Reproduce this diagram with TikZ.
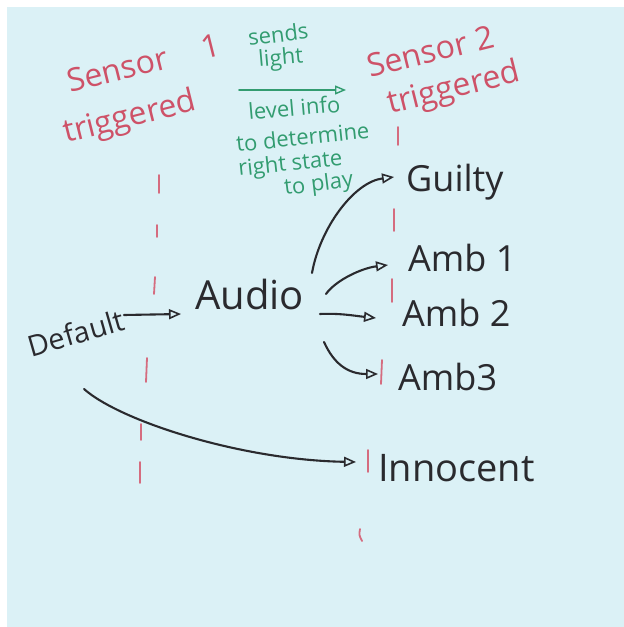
\documentclass[tikz,border=0pt]{standalone}
\usepackage{fontspec}
\setmainfont{Open Sans}
\usetikzlibrary{arrows.meta}

\definecolor{note}{RGB}{219,241,246}
\definecolor{ink}{RGB}{42,42,46}
\definecolor{redpen}{RGB}{206,82,104}
\definecolor{greenpen}{RGB}{50,156,112}

\begin{document}
\begin{tikzpicture}[x=1pt,y=-1pt,
  state/.style={anchor=base west, inner sep=0pt, text=ink, font=\fontsize{36}{40}\selectfont},
  sensorlabel/.style={anchor=base west, inner sep=0pt, text=redpen, rotate=14, font=\fontsize{32}{36}\selectfont},
  infolabel/.style={anchor=base west, inner sep=0pt, text=greenpen, font=\fontsize{22}{26}\selectfont},
  flow/.style={draw=ink, line width=2.1pt, line cap=round,
    -{Triangle[open, length=12pt, width=10pt, line width=1.6pt]}},
  infoflow/.style={draw=greenpen, line width=1.6pt, line cap=round,
    -{Triangle[open, length=11pt, width=9pt, line width=1.4pt]}},
  marker/.style={draw=redpen!85, line width=1.8pt, line cap=round},
]
% sticky note
\useasboundingbox (0,0) rectangle (624,627);
\fill[white] (0,0) rectangle (624,627);
\fill[note] (7,7) rectangle (624,627);

% sensor headings
\node[sensorlabel] (s1a) at (70,93)  {Sensor\hspace{1.1em}1};
\node[sensorlabel] (s1b) at (66,143) {triggered};
\node[sensorlabel] (s2a) at (370,78) {Sensor 2};
\node[sensorlabel] (s2b) at (390,114) {triggered};

% message between the sensors
\node[infolabel, rotate=7] (i1) at (249,46)  {sends};
\node[infolabel, rotate=5] (i2) at (259,67)  {light};
\node[infolabel, rotate=5] (i3) at (249,120) {level info};
\node[infolabel, rotate=6] (i4) at (237,152) {to determine};
\node[infolabel, rotate=6] (i5) at (239,176) {right state};
\node[infolabel, rotate=7] (i6) at (285,195) {to play};
\coordinate (g1) at (239,90);
\coordinate (g2) at (346,90);
\draw[infoflow] (g1) -- (g2);

% sensor trigger lines
\foreach \xa/\ya/\xb/\yb in {159/175/159/193, 157/225/157/237, 155/277/154/294,
    147/358/146/382, 141/424/141/440, 140/462/140/483}
  \draw[marker] (\xa,\ya) -- (\xb,\yb);
\foreach \xa/\ya/\xb/\yb in {398/127/398/145, 394/209/394/231, 392/279/392/302,
    382/360/381/384, 368/450/368/472}
  \draw[marker] (\xa,\ya) -- (\xb,\yb);
\draw[marker] (360,529) .. controls (359,535) .. (362,541);

% states
\node[ink, inner sep=0pt, rotate=16, font=\fontsize{29}{32}\selectfont] (default) at (76,333) {Default};
\node[state, font=\fontsize{40}{44}\selectfont] (audio) at (195,309) {Audio};
\node[state] (guilty)   at (406,191) {Guilty};
\node[state] (amb1)     at (408,271) {Amb 1};
\node[state] (amb2)     at (402,326) {Amb 2};
\node[state] (amb3)     at (398,390) {Amb3};
\node[state, font=\fontsize{38}{42}\selectfont] (innocent) at (378,481) {Innocent};

% transitions
\draw[flow] ([shift={(48pt,18pt)}]default.center) -- ([shift={(-14pt,-5pt)}]audio.base west);
\draw[flow] ([shift={(117pt,36pt)}]audio.base west)
  .. controls +(8,-45) and +(-40,5) .. ([shift={(-12pt,14pt)}]guilty.base west);
\draw[flow] ([shift={(131pt,15pt)}]audio.base west)
  .. controls +(10,-14) and +(-26,3) .. ([shift={(-20pt,6pt)}]amb1.base west);
\draw[flow] ([shift={(125pt,-5pt)}]audio.base west)
  .. controls +(20,-1) and +(-20,-2) .. ([shift={(-26pt,8pt)}]amb2.base west);
\draw[flow] ([shift={(129pt,-33pt)}]audio.base west)
  .. controls +(10,22) and +(-30,0) .. ([shift={(-20pt,16pt)}]amb3.base west);
\draw[flow] ([shift={(8pt,-56pt)}]default.center)
  .. controls +(36,32) and +(-115,-2) .. ([shift={(-22pt,19pt)}]innocent.base west);
\end{tikzpicture}
\end{document}
